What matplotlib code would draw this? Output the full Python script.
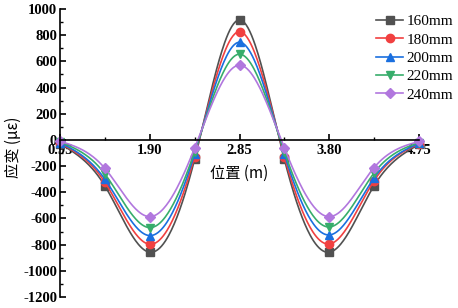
import numpy as np
import matplotlib
matplotlib.use("Agg")
import matplotlib.pyplot as plt
from matplotlib.ticker import MultipleLocator, FixedLocator

# data
positions = [0.95, 1.425, 1.90, 2.375, 2.85, 3.325, 3.80, 4.275, 4.75]
labels = ["160mm", "180mm", "200mm", "220mm", "240mm"]
strain_160 = [-30, -351, -858, -148, 917, -148, -858, -349, -35]
strain_180 = [-25, -323, -797, -127, 827, -128, -795, -311, -30]
strain_200 = [-20, -300, -731, -107, 746, -108, -726, -290, -25]
strain_220 = [-15, -260, -670, -90, 655, -90, -665, -252, -20]
strain_240 = [-10, -217, -586, -62, 571, -61, -586, -211, -12]
series = [strain_160, strain_180, strain_200, strain_220, strain_240]

colors = ["#515151", "#F14040", "#1A6FDF", "#37AD6B", "#B177DE"]
markers = ["s", "o", "^", "v", "D"]
msizes = [5.5, 6, 6, 6, 5]


def natural_spline(x, y, xs):
    # natural cubic spline through the points
    x = np.asarray(x, float)
    y = np.asarray(y, float)
    n = len(x)
    h = np.diff(x)
    A = np.zeros((n, n))
    b = np.zeros(n)
    A[0, 0] = 1
    A[-1, -1] = 1
    for i in range(1, n - 1):
        A[i, i - 1] = h[i - 1]
        A[i, i] = 2 * (h[i - 1] + h[i])
        A[i, i + 1] = h[i]
        b[i] = 3 * ((y[i + 1] - y[i]) / h[i] - (y[i] - y[i - 1]) / h[i - 1])
    c = np.linalg.solve(A, b)
    out = np.empty_like(xs)
    for k, xv in enumerate(xs):
        i = min(np.searchsorted(x, xv, side="right") - 1, n - 2)
        i = max(i, 0)
        dx = xv - x[i]
        bi = (y[i + 1] - y[i]) / h[i] - h[i] * (2 * c[i] + c[i + 1]) / 3
        di = (c[i + 1] - c[i]) / (3 * h[i])
        out[k] = y[i] + bi * dx + c[i] * dx ** 2 + di * dx ** 3
    return out


plt.rcParams["font.family"] = ["Liberation Serif", "Noto Sans CJK SC"]
plt.rcParams["axes.unicode_minus"] = False

fig = plt.figure(figsize=(4.58, 3.08), dpi=100)
ax = fig.add_axes([60 / 458, 1 - 297 / 308, 359 / 458, 288 / 308])

xs = np.linspace(positions[0], positions[-1], 400)
for vals, col, mk, ms, lab in zip(series, colors, markers, msizes, labels):
    ax.plot(xs, natural_spline(positions, vals, xs), color=col, lw=1.2, clip_on=False)
    ax.plot(positions, vals, ls="none", marker=mk, ms=ms, color=col, clip_on=False)
    ax.plot([], [], color=col, lw=1.2, marker=mk, ms=ms, label=lab)

ax.set_xlim(0.95, 4.75)
ax.set_ylim(-1200, 1000)
ax.spines["top"].set_visible(False)
ax.spines["right"].set_visible(False)
ax.spines["bottom"].set_position(("data", 0))
for s in ("left", "bottom"):
    ax.spines[s].set_linewidth(1.2)

ax.xaxis.set_major_locator(FixedLocator([0.95, 1.90, 2.85, 3.80, 4.75]))
ax.xaxis.set_minor_locator(FixedLocator([1.425, 2.375, 3.325, 4.275]))
ax.set_xticklabels(["0.95", "1.90", "2.85", "3.80", "4.75"])
ax.yaxis.set_major_locator(MultipleLocator(200))
ax.yaxis.set_minor_locator(MultipleLocator(100))
ax.tick_params(axis="both", which="major", direction="in", length=4, width=1.2,
               labelsize=10.5, pad=2)
ax.tick_params(axis="both", which="minor", direction="in", length=2.5, width=1)
ax.tick_params(axis="x", which="both", direction="in", pad=3)
for t in ax.get_xticklabels() + ax.get_yticklabels():
    t.set_fontweight("bold")

ax.set_ylabel("应变 (με)", fontsize=11, family=["Noto Sans CJK SC", "Liberation Serif"])
ax.yaxis.set_label_coords(-0.105, 0.52)
ax.text(0.5, 0.43, "位置 (m)", transform=ax.transAxes, ha="center", va="center",
        fontsize=11, family=["Noto Sans CJK SC", "Liberation Serif"])

leg = ax.legend(loc="upper left", bbox_to_anchor=(0.88, 0.98), frameon=False,
                fontsize=11, handlelength=1.8, labelspacing=0.3,
                handletextpad=0.2, borderaxespad=0, borderpad=0)

fig.savefig("out.png", dpi=100)
